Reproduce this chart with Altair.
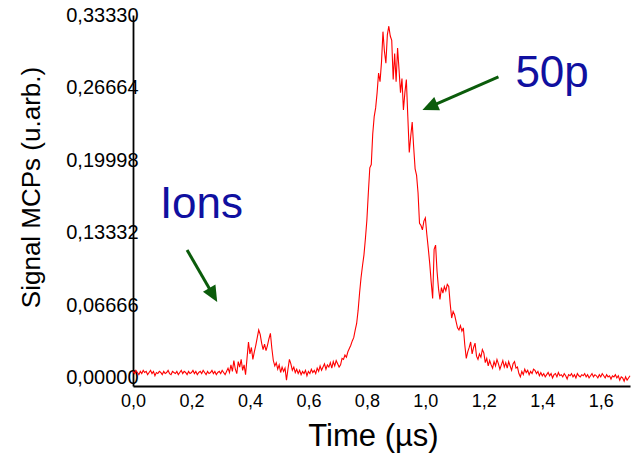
import altair as alt
import pandas as pd

# MCP signal (u.arb.), sampled every 0.005 µs from 0.000 µs to 1.700 µs
SIGNAL = [
    # 0.000 - 0.095
    0.006, 0.004, 0.007, 0.005, 0.003, 0.006, 0.004, 0.007, 0.005, 0.006,
    0.003, 0.005, 0.007, 0.004, 0.006, 0.002, 0.005, 0.004, 0.006, 0.005,
    # 0.100 - 0.195
    0.003, 0.006, 0.004, 0.005, 0.007, 0.004, 0.003, 0.006, 0.005, 0.004,
    0.006, 0.003, 0.005, 0.007, 0.004, 0.006, 0.005, 0.003, 0.006, 0.004,
    # 0.200 - 0.295
    0.005, 0.007, 0.004, 0.006, 0.003, 0.005, 0.006, 0.004, 0.007, 0.005,
    0.003, 0.006, 0.004, 0.005, 0.007, 0.004, 0.006, 0.003, 0.005, 0.006,
    # 0.300 - 0.330
    0.004, 0.007, 0.005, 0.003, 0.006, 0.009, 0.005,
    # 0.335 - 1.380
    0.012, 0.006, 0.016, 0.008, 0.004, 0.015, 0.010, 0.017, 0.007, 0.012,
    0.003, 0.018, 0.033, 0.022, 0.028, 0.017, 0.024, 0.030, 0.037, 0.044,
    0.040, 0.032, 0.026, 0.031, 0.025, 0.030, 0.036, 0.041, 0.027, 0.016,
    0.011, 0.014, 0.008, 0.012, 0.005, 0.010, 0.006, 0.009, -0.002, 0.008,
    0.017, 0.013, 0.007, 0.010, 0.005, 0.008, 0.004, 0.007, 0.003, 0.006,
    0.004, 0.007, 0.002, 0.006, 0.004, 0.008, 0.005, 0.007, 0.004, 0.009,
    0.006, 0.011, 0.007, 0.010, 0.013, 0.008, 0.012, 0.010, 0.014, 0.009,
    0.015, 0.011, 0.016, 0.013, 0.010, 0.012, 0.018, 0.017, 0.021, 0.019,
    0.024, 0.027, 0.030, 0.034, 0.037, 0.044, 0.050, 0.062, 0.078, 0.092,
    0.103, 0.113, 0.128, 0.145, 0.170, 0.193, 0.196, 0.224, 0.240, 0.248,
    0.262, 0.280, 0.272, 0.290, 0.318, 0.300, 0.289, 0.315, 0.323, 0.314,
    0.310, 0.274, 0.298, 0.272, 0.303, 0.283, 0.262, 0.275, 0.246, 0.262,
    0.274, 0.240, 0.207, 0.222, 0.235, 0.212, 0.192, 0.186, 0.170, 0.142,
    0.140, 0.136, 0.144, 0.147, 0.132, 0.119, 0.105, 0.088, 0.073, 0.118,
    0.122, 0.098, 0.082, 0.072, 0.083, 0.078, 0.084, 0.080, 0.086, 0.084,
    0.068, 0.055, 0.061, 0.058, 0.052, 0.046, 0.044, 0.048, 0.043, 0.046,
    0.030, 0.018, 0.024, 0.028, 0.033, 0.022, 0.028, 0.032, 0.020, 0.017,
    0.022, 0.019, 0.026, 0.023, 0.014, 0.018, 0.011, 0.016, 0.012, 0.009,
    0.015, 0.011, 0.017, 0.013, 0.008, 0.012, 0.016, 0.010, 0.014, 0.009,
    0.015, 0.011, 0.007, 0.013, 0.015, 0.009, 0.010, 0.004, 0.001, 0.006,
    0.003, 0.008, 0.005, 0.007, 0.003, 0.006, 0.004, 0.008, 0.007, 0.004,
    # 1.385 - 1.390
    0.006, 0.002,
    # 1.395 - 1.490
    0.005, 0.002, 0.004, 0.001, 0.003, 0.005, 0.002, 0.004, 0.000, 0.003,
    0.004, 0.001, 0.005, 0.002, 0.003, 0.001, 0.004, 0.002, -0.001, 0.003,
    # 1.495 - 1.590
    0.002, 0.004, 0.001, 0.003, 0.000, 0.004, 0.002, 0.001, 0.003, 0.002,
    0.004, 0.001, 0.003, 0.000, 0.002, 0.004, 0.001, 0.003, 0.002, 0.000,
    # 1.595 - 1.700
    0.003, 0.001, 0.004, 0.002, 0.000, 0.003, 0.001, 0.002, -0.001, 0.002,
    0.001, 0.003, 0.000, 0.002, -0.002, 0.001, 0.000, -0.003, 0.001, -0.002,
    0.000, 0.002,
]
# sampling clock of the trace (µs)
TIME_US = [round(i * 0.005, 3) for i in range(len(SIGNAL))]

X_TICKS = [0.0, 0.2, 0.4, 0.6, 0.8, 1.0, 1.2, 1.4, 1.6]
Y_TICKS = [0.0, 0.06666, 0.13332, 0.19998, 0.26664, 0.33330]

# annotations (data units)
LABELS = ["Ions", "50p"]
LABEL_X = [0.092, 1.308]
LABEL_Y = [0.147, 0.267]
ARROW_X1 = [0.185, 1.250]
ARROW_Y1 = [0.1175, 0.2764]
ARROW_X2 = [0.274, 1.015]
ARROW_Y2 = [0.0762, 0.249]
HEAD_X = [0.288, 0.990]
HEAD_Y = [0.0698, 0.2461]
HEAD_ANGLE = [150, 246.5]

FONT = "Liberation Sans"
GREEN = "#0b5c0b"
BLUE = "#1010a0"

trace = pd.DataFrame({"t": TIME_US, "s": SIGNAL})
labels = pd.DataFrame({"label": LABELS, "x": LABEL_X, "y": LABEL_Y})
arrows = pd.DataFrame({"x": ARROW_X1, "y": ARROW_Y1, "x2": ARROW_X2, "y2": ARROW_Y2})
heads = pd.DataFrame({"x": HEAD_X, "y": HEAD_Y, "angle": HEAD_ANGLE})

xscale = alt.Scale(domain=[0, 1.7], nice=False, zero=False)
yscale = alt.Scale(domain=[-0.0074, 0.3333], nice=False, zero=False)

x_axis = alt.Axis(
    values=X_TICKS,
    labelExpr="replace(format(datum.value, '.1f'), '.', ',')",
    ticks=False, tickSize=0, grid=False,
    domainColor="black", domainWidth=1.8,
    labelFontSize=18, labelColor="black", labelFont=FONT, labelPadding=6,
    labelFlush=False, labelOverlap=False,
    title="Time (µs)", titleFontSize=31, titleFont=FONT, titleFontWeight="normal",
    titleColor="black", titleX=240, titleY=59, titleAlign="center",
    titleBaseline="alphabetic",
)
y_axis = alt.Axis(
    values=Y_TICKS,
    labelExpr="replace(format(datum.value, '.5f'), '.', ',')",
    ticks=False, tickSize=0, grid=False,
    domainColor="black", domainWidth=1.8,
    labelFontSize=20, labelColor="black", labelFont=FONT, labelPadding=-5,
    labelFlush=False, labelOverlap=False,
    title="Signal MCPs (u.arb.)", titleFontSize=26, titleFont=FONT,
    titleFontWeight="normal", titleColor="black",
    titleX=-102, titleY=172, titleAlign="center", titleBaseline="middle",
)

line = alt.Chart(trace).mark_line(color="#ff0000", strokeWidth=1.1).encode(
    x=alt.X("t:Q", scale=xscale, axis=x_axis),
    y=alt.Y("s:Q", scale=yscale, axis=y_axis),
)

shafts = alt.Chart(arrows).mark_rule(color=GREEN, strokeWidth=3).encode(
    x="x:Q", y="y:Q", x2="x2:Q", y2="y2:Q"
)

arrow_heads = alt.Chart(heads).mark_point(
    shape="M0,0L0.9,2L-0.9,2Z", filled=True, size=256, color=GREEN,
    opacity=1, strokeWidth=0,
).encode(x="x:Q", y="y:Q", angle=alt.Angle("angle:Q", scale=None))

texts = alt.Chart(labels).mark_text(
    font=FONT, fontSize=44, color=BLUE, align="left", baseline="alphabetic"
).encode(x="x:Q", y="y:Q", text="label:N")

chart = alt.layer(line, shafts, arrow_heads, texts).properties(
    width=497, height=371,
    padding={"left": 133, "top": 15, "right": 10, "bottom": 67},
    autosize=alt.AutoSizeParams(type="none"),
    background="white",
).configure_view(stroke=None)

chart.save("out.html", embed_options={"renderer": "svg", "actions": False})
